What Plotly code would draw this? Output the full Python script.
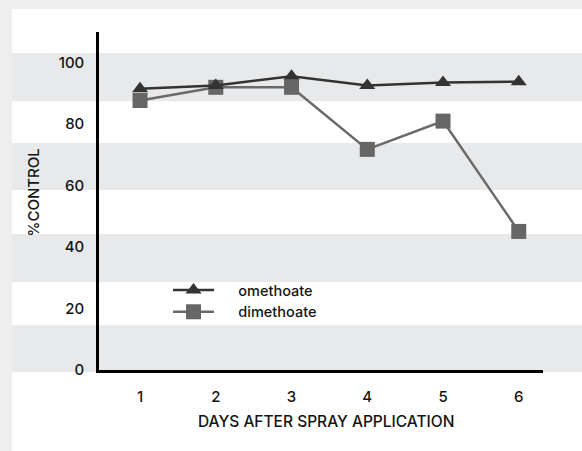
import plotly.graph_objects as go

# Days after spraying and % control for each insecticide
days = [1, 2, 3, 4, 5, 6]
omethoate = [91.5, 92.6, 95.6, 92.6, 93.6, 93.8]
dimethoate = [87.7, 92.0, 92.0, 71.8, 81.0, 45.1]

y_ticks = [0, 20, 40, 60, 80, 100]

# Horizontal shaded bands behind the plot, given in % units (low, high)
bands = [(-0.65, 14.6), (28.6, 44.3), (58.6, 73.9), (87.5, 103.2)]

FONT = "Inter"
TXT = "#141414"
WEIGHT = 500
Y_MAX = 110

# Pixel geometry of the plotting area
W, H = 582, 451
ML, MR, MT, MB = 99, 39, 32, 81
PW, PH = W - ML - MR, H - MT - MB


def px_x(x):
    return (x - ML) / PW


def px_y(y):
    return (H - MB - y) / PH


# gap between the legend symbol and its label
PAD = "\u00a0" * 5

fig = go.Figure()

fig.add_trace(go.Scatter(
    x=days, y=dimethoate, name=PAD + "dimethoate", mode="lines+markers",
    line=dict(color="#6a6a6a", width=2.5),
    marker=dict(symbol="square", size=15, color="#666666"),
    legendrank=2,
))
fig.add_trace(go.Scatter(
    x=days, y=omethoate, name=PAD + "omethoate", mode="lines+markers",
    line=dict(color="#333333", width=2.5),
    marker=dict(symbol="triangle-up", size=14, color="#333333"),
    legendrank=1,
))

shapes = [
    # white panel inside the light grey frame
    dict(type="rect", xref="paper", yref="paper",
         x0=px_x(12), x1=px_x(W + 5), y0=px_y(H + 5), y1=px_y(9),
         fillcolor="white", line=dict(width=0), layer="below"),
]
for lo, hi in bands:
    shapes.append(dict(
        type="rect", xref="paper", yref="paper",
        x0=px_x(12), x1=px_x(W + 5), y0=lo / Y_MAX, y1=hi / Y_MAX,
        fillcolor="#e8e9eb", line=dict(width=0), layer="below"))

annotations = [
    dict(text="%CONTROL", textangle=-90, xref="paper", yref="paper",
         x=px_x(32.5), y=px_y(193), xanchor="center", yanchor="middle",
         showarrow=False,
         font=dict(family=FONT, size=15, color=TXT, weight=WEIGHT)),
    dict(text="DAYS AFTER SPRAY APPLICATION", xref="paper", yref="paper",
         x=px_x(326), y=px_y(422), xanchor="center", yanchor="middle",
         showarrow=False,
         font=dict(family=FONT, size=15.5, color=TXT, weight=WEIGHT)),
]

fig.update_layout(
    width=W, height=H,
    margin=dict(l=ML, r=MR, t=MT, b=MB),
    paper_bgcolor="#eeeeee",
    plot_bgcolor="rgba(0,0,0,0)",
    shapes=shapes,
    annotations=annotations,
    font=dict(family=FONT, color=TXT),
    legend=dict(
        x=px_x(168), y=px_y(274), xanchor="left", yanchor="top",
        bgcolor="rgba(0,0,0,0)",
        font=dict(family=FONT, size=14.5, color=TXT, weight=WEIGHT),
        itemwidth=41,
    ),
    showlegend=True,
)

fig.update_xaxes(
    range=[0.458, 6.32], tickvals=days, ticktext=[str(d) for d in days],
    showline=True, linecolor="black", linewidth=2.5, showgrid=False,
    zeroline=False, ticks="", ticklabelstandoff=11,
    tickfont=dict(family=FONT, size=15, color=TXT, weight=WEIGHT),
)
fig.update_yaxes(
    range=[0, Y_MAX], tickvals=y_ticks,
    showline=True, linecolor="black", linewidth=2.5, showgrid=False,
    zeroline=False, ticks="", ticklabelstandoff=9,
    tickfont=dict(family=FONT, size=15, color=TXT, weight=WEIGHT),
)

fig.write_html("out.html")
